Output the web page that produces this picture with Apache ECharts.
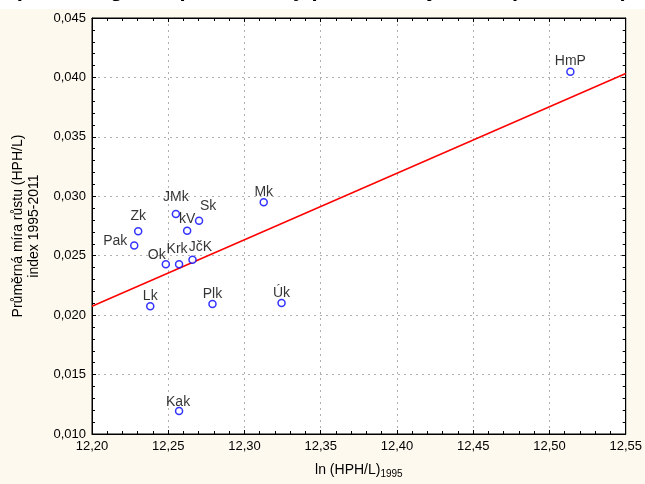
<!DOCTYPE html>
<html><head><meta charset="utf-8">
<script src="https://cdn.jsdelivr.net/npm/echarts@6/dist/echarts.min.js"></script>
<style>html,body{margin:0;padding:0;background:#fdf9ee}#c{width:645px;height:484px}</style>
</head><body><div id="c"></div>
<script>
// Data
const names = ['HmP','Mk','Zk','Pak','JMk','kV','Sk','Ok','Krk','JčK','Lk','Plk','Úk','Kak'];
const xVals = [12.5137,12.3126,12.2303,12.2277,12.2550,12.2624,12.2702,12.2484,12.2571,12.2659,12.2382,12.2790,12.3243,12.2571];
const yVals = [0.04048,0.02950,0.02706,0.02586,0.02850,0.02711,0.02794,0.02428,0.02428,0.02467,0.02075,0.02094,0.02103,0.01194];
const fitX = [12.20, 12.55];
const fitY = [0.02075, 0.04033];
const xTicks = ['12,20','12,25','12,30','12,35','12,40','12,45','12,50','12,55'];
const yTicks = ['0,010','0,015','0,020','0,025','0,030','0,035','0,040','0,045'];

// Label placement (style only)
const labelOffset = {
  'Zk':[0,-3],'JMk':[0,-5],'Krk':[-2,-3],'Pak':[-19,8],'Ok':[-9,3],'Sk':[9,-2],'JčK':[8,0],
  'kV':[0,1],'Kak':[-1,3]
};

const font = 'Liberation Sans, Arial, sans-serif';
const chart = echarts.init(document.getElementById('c'), null, {renderer:'canvas'});
const pts = names.map((n,i)=>({
  value:[xVals[i], yVals[i]], name:n,
  label:{offset: labelOffset[n] || [0,2]}
}));
const axisCommon = {
  axisLine:{show:true,onZero:false,lineStyle:{color:'#000',width:1}},
  axisTick:{show:true,inside:true,length:4,lineStyle:{color:'#000'}},
  minorTick:{show:true,splitNumber:5,length:3,lineStyle:{color:'#000'}},
};
chart.setOption({
  backgroundColor:'#fdf9ee',
  animation:false,
  graphic:[
    {type:'rect',left:0,top:0,z:10,shape:{width:645,height:9},style:{fill:'#ffffff'}},
    {type:'text',left:'center',top:-21,z:11,style:{text:'β-konvergence produktivity práce v krajích ČR (1995-2011)',font:'bold 22px '+font,fill:'#000'}}
  ],
  grid:{left:92,right:18,top:18,bottom:46,show:true,backgroundColor:'#ffffff',borderColor:'#000',borderWidth:1},
  xAxis:[{
    type:'value',min:12.20,max:12.55,interval:0.05,
    ...axisCommon,
    axisLabel:{color:'#000',fontSize:13,fontFamily:font,margin:6,
      formatter:(v)=>xTicks[Math.round((v-12.20)/0.05)]},
    splitLine:{show:true,lineStyle:{color:'#b0b0b0',type:[2,4],width:1}},
    name:'{a|ln (HPH/L)}{s|1995}',nameLocation:'middle',nameGap:27,
    nameTextStyle:{rich:{a:{fontSize:14,fontFamily:font,color:'#000'},s:{fontSize:10,fontFamily:font,color:'#000',padding:[8,0,0,0]}}}
  },{
    type:'value',position:'top',min:12.20,max:12.55,interval:0.05,
    ...axisCommon,axisLabel:{show:false},splitLine:{show:false}
  }],
  yAxis:[{
    type:'value',min:0.010,max:0.045,interval:0.005,
    ...axisCommon,
    axisLabel:{color:'#000',fontSize:13,fontFamily:font,margin:6,
      formatter:(v)=>yTicks[Math.round((v-0.010)/0.005)]},
    splitLine:{show:true,lineStyle:{color:'#b0b0b0',type:[2,4],width:1}},
    name:'Průměrná míra růstu (HPH/L)\nindex 1995-2011',nameLocation:'middle',nameGap:49,
    nameTextStyle:{fontSize:14,fontFamily:font,color:'#000',lineHeight:16}
  },{
    type:'value',position:'right',min:0.010,max:0.045,interval:0.005,
    ...axisCommon,axisLabel:{show:false},splitLine:{show:false}
  }],
  series:[{
    type:'line',data:fitX.map((x,i)=>[x,fitY[i]]),symbol:'none',
    lineStyle:{color:'#ff0000',width:1.5},z:2,silent:true
  },{
    type:'scatter',data:pts,symbol:'circle',symbolSize:7,
    itemStyle:{color:'#ffffff',borderColor:'#0000ff',borderWidth:1.5},
    label:{show:true,position:'top',distance:1,formatter:'{b}',color:'#000',fontSize:14,fontFamily:font},
    z:3
  }]
});
</script></body></html>
